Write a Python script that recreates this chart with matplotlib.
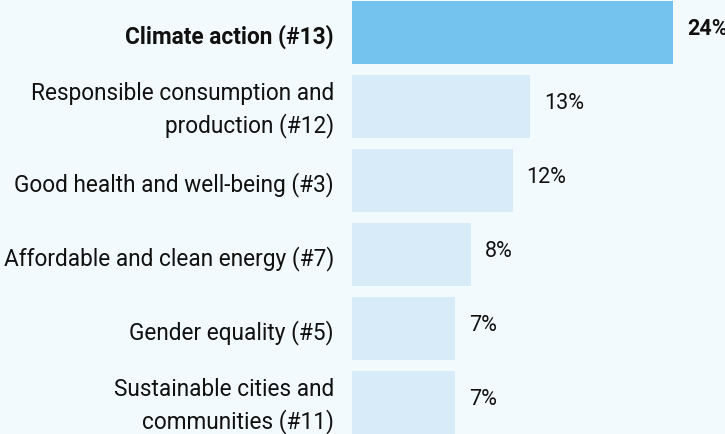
import matplotlib.pyplot as plt

plt.rcParams['font.family'] = ['Roboto', 'DejaVu Sans']

categories = [
    'Climate action (#13)',
    'Responsible consumption and\nproduction (#12)',
    'Good health and well-being (#3)',
    'Affordable and clean energy (#7)',
    'Gender equality (#5)',
    'Sustainable cities and\ncommunities (#11)',
]
values = [24, 13.3, 12, 8.9, 7.7, 7.7]
value_labels = ['24%', '13%', '12%', '8%', '7%', '7%']
highlight = [True, False, False, False, False, False]

bg = '#f3fafd'
fig = plt.figure(figsize=(7.25, 4.35), dpi=100, facecolor=bg)
ax = fig.add_axes([352 / 725, 0, 373 / 725, 1])
ax.set_facecolor(bg)

pos = range(len(categories))
colors = ['#73c3ee' if h else '#d7ecf8' for h in highlight]
bars = ax.barh(pos, values, height=0.85, color=colors)

ax.set_xlim(0, 373 / 13.375)
ax.set_ylim((435 - 33.5) / 74, -33.5 / 74)
ax.set_xticks([])
ax.set_yticks([])
for s in ax.spines.values():
    s.set_visible(False)

# category labels, right aligned left of the bars
for p, cat, h in zip(pos, categories, highlight):
    ax.annotate(cat, (0, p), xytext=(-13, -2), textcoords='offset points',
                ha='right', va='center', fontsize=16.3, color='#111111',
                linespacing=1.4, fontweight='bold' if h else 'normal',
                annotation_clip=False)

for b, txt, h in zip(bars, value_labels, highlight):
    ax.annotate(txt, (b.get_width(), b.get_y() + b.get_height() / 2),
                xytext=(10, 3), textcoords='offset points', va='center', ha='left',
                fontsize=15.5, color='#111111', fontweight='bold' if h else 'normal')

fig.savefig('out.png', dpi=100, facecolor=bg)
